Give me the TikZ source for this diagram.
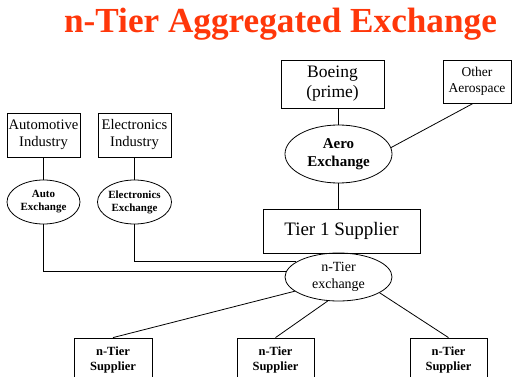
\documentclass[tikz,border=0pt]{standalone}
\usepackage{fontspec}
\setmainfont{Liberation Serif}
\usetikzlibrary{shapes.geometric}
\definecolor{titlered}{RGB}{255,55,10}
\begin{document}
\begin{tikzpicture}[x=1pt,y=-1pt,
  box/.style={draw,line width=0.8pt,rectangle,inner sep=0pt,align=center},
  oval/.style={draw,line width=0.8pt,ellipse,inner sep=0pt,align=center},
  link/.style={line width=0.8pt}]
\useasboundingbox (0,0) rectangle (514,377);
\begin{scope}
\clip (0,0) rectangle (514,377);
\node[anchor=base,text=titlered,font=\fontsize{35.2}{40}\selectfont\bfseries] (title) at (280.5,33) {n-Tier Aggregated Exchange};

\node[box,minimum width=73pt,minimum height=44pt,font=\fontsize{14.6}{17}\selectfont] (auto) at (43.5,135) {Automotive\\Industry};
\node[box,minimum width=73pt,minimum height=44pt,font=\fontsize{14.6}{17}\selectfont] (elec) at (134.5,135) {Electronics\\Industry};
\node[oval,minimum width=73pt,minimum height=44pt,font=\fontsize{11}{13}\selectfont\bfseries] (autoex) at (43.5,202) {Auto\\Exchange};
\node[oval,minimum width=73pt,minimum height=44pt,font=\fontsize{11}{13}\selectfont\bfseries] (elecex) at (134.5,202) {Electronics\\Exchange};

\node[box,minimum width=103pt,minimum height=48pt,font=\fontsize{17.5}{20}\selectfont] (boeing) at (332.5,84) {Boeing\\(prime)};
\node[box,minimum width=68pt,minimum height=43pt,font=\fontsize{13.5}{16}\selectfont] (other) at (477,81.5) {Other\\Aerospace};
\node[oval,minimum width=107pt,minimum height=58pt,font=\fontsize{15}{18}\selectfont\bfseries] (aero) at (338.5,154) {Aero\\Exchange};
\node[box,minimum width=157pt,minimum height=44pt,font=\fontsize{19}{20}\selectfont] (tier1) at (341.5,231) {Tier 1 Supplier};
\node[oval,minimum width=107pt,minimum height=48pt,font=\fontsize{14}{17}\selectfont] (ntier) at (338.5,277) {n-Tier\\exchange};

\node[box,minimum width=78pt,minimum height=44pt,font=\fontsize{12.5}{15}\selectfont\bfseries] (s1) at (113,360) {n-Tier\\Supplier};
\node[box,minimum width=77pt,minimum height=44pt,font=\fontsize{12.5}{15}\selectfont\bfseries] (s2) at (275.5,360) {n-Tier\\Supplier};
\node[box,minimum width=77pt,minimum height=44pt,font=\fontsize{12.5}{15}\selectfont\bfseries] (s3) at (448.5,360) {n-Tier\\Supplier};

\draw[link] (auto.south) -- (autoex.north);
\draw[link] (elec.south) -- (elecex.north);
\draw[link] (aero.north) -- (aero.north |- boeing.south);
\draw[link] (aero.south) -- (aero.south |- tier1.north);
\draw[link] (aero.7.5) -- (other.260);
\draw[link] (autoex.south) |- (ntier.174);
\draw[link] (elecex.south) |- (ntier.160);
\draw[link] (ntier.198) -- (s1.north);
\draw[link] (ntier.246) -- (s2.north);
\draw[link] (ntier.339) -- (s3.north);
\end{scope}
\end{tikzpicture}
\end{document}
